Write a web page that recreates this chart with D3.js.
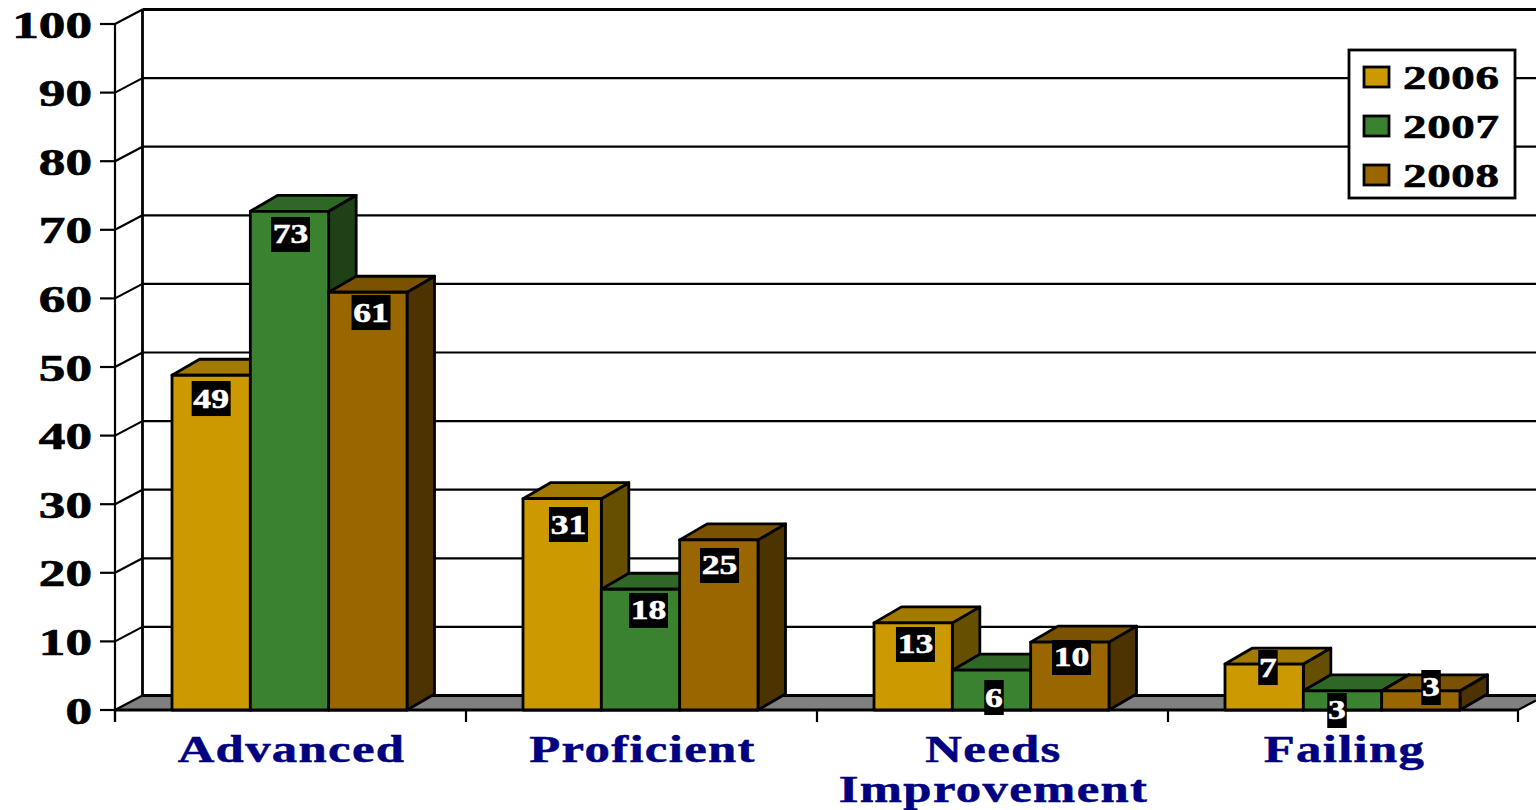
<!DOCTYPE html>
<html><head><meta charset="utf-8">
<script src="https://cdn.jsdelivr.net/npm/d3@7"></script>
<style>html,body{margin:0;padding:0;background:#fff;overflow:hidden}svg{display:block}
text{font-family:"Liberation Serif",serif;font-weight:bold}</style></head>
<body><svg id="c" width="1536" height="810"></svg>
<script>
const categories = [["Advanced"],["Proficient"],["Needs","Improvement"],["Failing"]];
const years = ["2006","2007","2008"];
const v2006 = [48.8,30.8,12.7,6.7];
const v2007 = [72.7,17.6,5.8,2.8];
const v2008 = [60.9,24.8,9.9,2.8];
const series = [v2006,v2007,v2008];
const yTicks = [0,10,20,30,40,50,60,70,80,90,100];
const colors = ["#cc9900","#3b8230","#996600"];
const tops = ["#a37a00","#2f6826","#7a5200"];
const sides = ["#665000","#1f4118","#4c3300"];
// value-label nudges relative to the bar (series, category)
const labelDrop = [[23.3,25.8,21.6,3.5],[23.2,21.2,27.3,19.7],[20.3,25.6,15.4,-3.3]];
const labelShift = [[0,6.3,2.3,3.8],[1,8,2.5,-5.5],[3.2,0.7,1.7,10.2]];

const DX=27.5, DY=-14.5, BDX=27.5, BDY=-16;
const svg=d3.select("#c");
const y=d3.scaleLinear().domain([0,100]).range([710,24]);
const xBand=d3.scaleBand().domain(d3.range(4)).range([115,1519]);
const xBar=d3.scaleBand().domain(d3.range(3)).range([57,57+235]);

function label(g,x,yy,txt,size,sx,anchor,fill,ls,sw){
  return g.append("text").attr("transform",`translate(${x},${yy}) scale(${sx},1)`)
   .attr("text-anchor",anchor).attr("font-size",size).attr("fill",fill)
   .attr("stroke",fill).attr("stroke-width",sw===undefined?0.7:sw)
   .attr("letter-spacing",ls||0).text(txt);
}
const line=(x1,y1,x2,y2,w)=>svg.append("line").attr("x1",x1).attr("y1",y1).attr("x2",x2).attr("y2",y2).attr("stroke","#000").attr("stroke-width",w||2.2);
const poly=(p,f)=>svg.append("polygon").attr("points",p.map(d=>d.join(",")).join(" ")).attr("fill",f).attr("stroke","#000").attr("stroke-width",2.8).attr("stroke-linejoin","round");

// floor
const x0=115,x1=1518;
svg.append("polygon").attr("points",[[x0,y(0)],[x0+DX,y(0)+DY],[1536,y(0)+DY],[x1+DX,y(0)+DY],[x1,y(0)]].map(d=>d.join(",")).join(" ")).attr("fill","#808080");
// gridlines and wall diagonals
yTicks.forEach(t=>{
  line(x0+DX,y(t)+DY,1536,y(t)+DY,t===100||t===0?2.8:2.2);
  line(x0,y(t),x0+DX,y(t)+DY,2.2);
  line(x0-15,y(t),x0,y(t),2.2);
  label(svg,92,y(t)+13.5,String(t),38,1.4,"end","#000");
});
line(x0+DX,y(100)+DY,x0+DX,y(0)+DY,2.8);
line(x0,y(100),x0,y(0)+12,2.2);
line(x0,y(0),1518,y(0),2.8);
line(1518,y(0),1536,y(0)-9.5,2.2);
xBand.domain().concat([4]).forEach(i=>{const tx=i<4?xBand(i):x1; line(tx,y(0),tx,y(0)+12,2.2);});

// bars
categories.forEach((c,i)=>{
  series.forEach((s,k)=>{
    const l=xBand(i)+xBar(k), r=l+xBar.bandwidth(), t=y(s[i]), b=y(0);
    poly([[r,b],[r+BDX,b+BDY],[r+BDX,t+BDY],[r,t]],sides[k]);
    poly([[l,t],[l+BDX,t+BDY],[r+BDX,t+BDY],[r,t]],tops[k]);
    poly([[l,b],[l,t],[r,t],[r,b]],colors[k]);
  });
});
// value labels
categories.forEach((c,i)=>{
  series.forEach((s,k)=>{
    const cx=xBand(i)+xBar(k)+xBar.bandwidth()/2+labelShift[k][i], cy=y(s[i])+labelDrop[k][i];
    const txt=d3.format(".0f")(s[i]);
    const w=txt.length*19.5;
    svg.append("rect").attr("x",cx-w/2).attr("y",cy-17.5).attr("width",w).attr("height",35).attr("fill","#000");
    label(svg,cx,cy+9,txt,27,1.32,"middle","#fff",0,0.5);
  });
});
// category labels
categories.forEach((c,i)=>{
  const cx=xBand(i)+xBand.bandwidth()/2+1;
  c.forEach((ln,j)=>label(svg,cx,761.5+j*40.5,ln,37,1.37,"middle","#000080",1,0.5));
});
// legend
svg.append("rect").attr("x",1349).attr("y",50).attr("width",166).attr("height",148).attr("fill","#fff").attr("stroke","#000").attr("stroke-width",2.8);
years.forEach((yr,k)=>{
  const yy=77+k*49;
  svg.append("rect").attr("x",1364).attr("y",yy-10).attr("width",25).attr("height",20).attr("fill",colors[k]).attr("stroke","#000").attr("stroke-width",2.8);
  label(svg,1403,yy+12,yr,34,1.38,"start","#000",0.5);
});
</script></body></html>
